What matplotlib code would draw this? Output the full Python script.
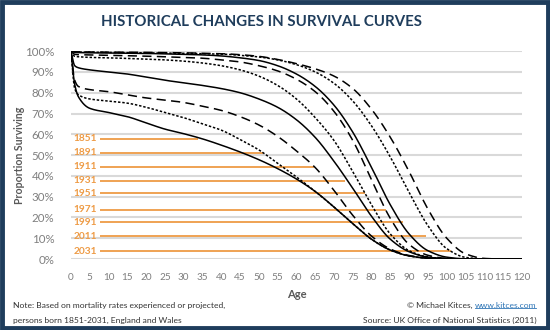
import numpy as np
import matplotlib
matplotlib.use("Agg")
import matplotlib.pyplot as plt
from matplotlib.patches import Rectangle

# survival curves by birth cohort (% still alive at each age)
ages = [0, 1, 2, 5, 10, 15, 20, 25, 30, 35, 40, 45, 50, 55, 60, 65, 70, 75, 80, 85, 90, 95, 100, 105, 110, 115, 120]

surv_1851 = [100, 84, 78, 72.5, 70.5, 68.5, 65.5, 62.5, 60.3, 57.8, 54.8, 51.5, 47.8, 43.5, 38.5, 32.5, 25, 17, 9.5, 4.3, 1.5, 0.4, 0.05, 0, 0, 0, 0]
surv_1891 = [100, 82, 79, 77, 76, 75, 73, 70.5, 68, 65, 62, 57.5, 52.5, 46, 39.5, 32.5, 25, 17, 9.5, 4.3, 1.5, 0.4, 0.05, 0, 0, 0, 0]
surv_1911 = [100, 86, 83, 81.5, 80.5, 79, 77.5, 76.5, 75.3, 73.5, 71.5, 68.5, 64.5, 59, 52, 44, 33, 21, 11, 4.8, 1.7, 0.4, 0.05, 0, 0, 0, 0]
surv_1931 = [100, 93, 92, 91, 90, 89, 87.5, 86, 84.8, 83.5, 82, 80, 77, 73, 67, 58.5, 47, 34, 20.5, 9.5, 3.5, 0.9, 0.15, 0, 0, 0, 0]
surv_1951 = [100, 97.5, 97.3, 97, 96.8, 96.5, 96.2, 95.8, 95.2, 94.3, 93, 91, 88, 83.5, 77, 68, 57, 42, 26, 12, 4, 1, 0.2, 0, 0, 0, 0]
surv_1971 = [100, 98.5, 98.3, 98.2, 98, 97.8, 97.6, 97.3, 97, 96.6, 95.8, 94.8, 93, 90.5, 86.5, 80.5, 71, 57, 38, 19.5, 7, 1.8, 0.3, 0, 0, 0, 0]
surv_1991 = [100, 99.4, 99.3, 99.2, 99.1, 99, 98.9, 98.7, 98.5, 98.2, 97.7, 96.8, 95.5, 93, 89, 83, 74, 61, 44, 26, 12, 4, 0.9, 0.1, 0, 0, 0]
surv_2011 = [100, 99.6, 99.6, 99.5, 99.4, 99.3, 99.2, 99.1, 99, 98.8, 98.6, 98, 97.2, 95.8, 93.5, 90, 84.5, 76, 64, 49, 32, 16, 5, 0.8, 0.05, 0, 0]
surv_2031 = [100, 99.7, 99.7, 99.6, 99.5, 99.5, 99.4, 99.3, 99.2, 99, 98.8, 98.3, 97.5, 96, 94, 91.5, 88, 82, 72, 58.5, 42, 24, 10, 2.5, 0.3, 0, 0]

cohorts = ["1851", "1891", "1911", "1931", "1951", "1971", "1991", "2011", "2031"]
curves = [surv_1851, surv_1891, surv_1911, surv_1931, surv_1951, surv_1971, surv_1991, surv_2011, surv_2031]

# orange label leaders: height (%) and the age where each one stops
label_levels = [57.8, 51.1, 44.4, 37.6, 31.6, 23.7, 17.6, 10.9, 3.7]
label_end_ages = [33.7, 51, 64.8, 73, 78.2, 83.7, 88.4, 94.6, 101]

navy = "#1f3d5c"
orange = "#ee9b45"
grey_txt = "#7f7f7f"
narrow = ["Liberation Sans Narrow", "Lato", "DejaVu Sans"]

styles = ["-", (0, (1.6, 1.2)), (0, (6, 3.5))]


def pchip(x, y, xn):
    # monotone cubic so the curves stay smooth without overshooting
    x = np.asarray(x, float)
    y = np.asarray(y, float)
    h = np.diff(x)
    d = np.diff(y) / h
    m = np.zeros_like(y)
    m[0], m[-1] = d[0], d[-1]
    for k in range(1, len(x) - 1):
        if d[k - 1] * d[k] > 0:
            w1 = 2 * h[k] + h[k - 1]
            w2 = h[k] + 2 * h[k - 1]
            m[k] = (w1 + w2) / (w1 / d[k - 1] + w2 / d[k])
    idx = np.clip(np.searchsorted(x, xn) - 1, 0, len(x) - 2)
    t = (xn - x[idx]) / h[idx]
    h00 = 2 * t**3 - 3 * t**2 + 1
    h10 = t**3 - 2 * t**2 + t
    h01 = -2 * t**3 + 3 * t**2
    h11 = t**3 - t**2
    return h00 * y[idx] + h10 * h[idx] * m[idx] + h01 * y[idx + 1] + h11 * h[idx] * m[idx + 1]


fig = plt.figure(figsize=(5.5, 3.3), dpi=100)
fig.patch.set_facecolor("white")
fig.patches.append(Rectangle((0.004, 0.006), 0.992, 0.988, transform=fig.transFigure,
                             fill=False, edgecolor=navy, linewidth=3.5))

ax = fig.add_axes([0.129, 0.215, 0.82, 0.63])
ax.set_xlim(0, 120)
ax.set_ylim(0, 100)

for lvl in range(0, 101, 10):
    ax.axhline(lvl, color="#d9d9d9", linewidth=1.5, zorder=0)

for yr, lvl, end in zip(cohorts, label_levels, label_end_ages):
    ax.plot([7.8, end], [lvl, lvl], color=orange, linewidth=1.3, zorder=1, solid_capstyle="butt")
    ax.text(7.0, lvl, yr, color=orange, fontsize=7.3, fontweight="bold", ha="right", va="center",
            family=narrow)

fine_ages = np.linspace(0, 120, 1201)
for i, (yr, surv) in enumerate(zip(cohorts, curves)):
    ax.plot(fine_ages, pchip(ages, surv, fine_ages), color="black", linewidth=1.1,
            linestyle=styles[i % 3], zorder=2)

ax.set_xticks(range(0, 121, 5))
ax.set_yticks(range(0, 101, 10))
ax.set_yticklabels([f"{v}%" for v in range(0, 101, 10)])
ax.tick_params(length=0, labelcolor=grey_txt)
ax.tick_params(axis="x", labelsize=7.2, pad=10)
ax.tick_params(axis="y", labelsize=8.3, pad=12)
for lab in ax.get_xticklabels() + ax.get_yticklabels():
    lab.set_family(narrow)
for s in ax.spines.values():
    s.set_visible(False)

ax.set_xlabel("Age", fontsize=8, fontweight="bold", color="#595959", labelpad=5, family=narrow)
ax.set_ylabel("Proportion Surviving", fontsize=7.6, fontweight="bold", color="#595959", family=narrow)
ax.yaxis.set_label_coords(-0.102, 0.5)

fig.text(0.475, 0.933, "HISTORICAL CHANGES IN SURVIVAL CURVES", ha="center", va="center",
         fontsize=10.8, fontweight="bold", color=navy, family="Lato")

foot = dict(fontsize=6.1, color="#333333", family=narrow, va="center")
fig.text(0.024, 0.073, "Note: Based on mortality rates experienced or projected,", ha="left", **foot)
fig.text(0.024, 0.030, "persons born 1851-2031, England and Wales", ha="left", **foot)
link = fig.text(0.975, 0.073, "www.kitces.com", ha="right", fontsize=6.1, color="#2e75b6",
                family=narrow, va="center")
link.set_url("https://www.kitces.com")
fig.canvas.draw()
bb = link.get_window_extent().transformed(fig.transFigure.inverted())
fig.add_artist(plt.Line2D([bb.x0, bb.x1], [bb.y0 + 0.004, bb.y0 + 0.004], color="#2e75b6",
                          linewidth=0.6, transform=fig.transFigure))
fig.text(bb.x0, 0.073, "© Michael Kitces, ", ha="right", **foot)
fig.text(0.975, 0.030, "Source: UK Office of National Statistics (2011)", ha="right", **foot)

fig.savefig("out.png", dpi=100, facecolor="white")
